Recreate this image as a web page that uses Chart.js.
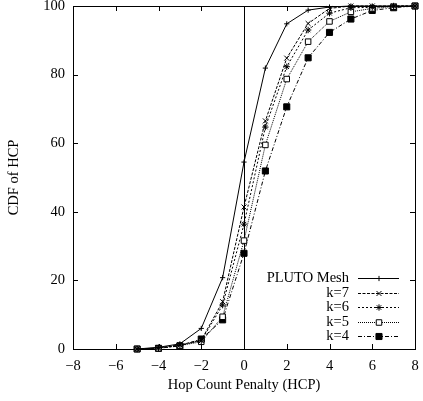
<!DOCTYPE html>
<html><head><meta charset="utf-8">
<script src="https://cdn.jsdelivr.net/npm/chart.js@4/dist/chart.umd.min.js"></script>
<style>html,body{margin:0;padding:0;background:#fff}#wrap{width:423px;height:401px}</style>
</head><body><div id="wrap"><canvas id="c" width="423" height="401"></canvas></div>
<script>
const hcp = [-5, -4, -3, -2, -1, 0, 1, 2, 3, 4, 5, 6, 7, 8];
const pluto = [0, 0.5, 1.5, 6.0, 20.8, 54.5, 81.9, 94.8, 98.8, 99.7, 100, 100, 100, 100];
const k7 = [0, 0.3, 1.2, 2.6, 13.8, 41.4, 66.5, 84.8, 94.9, 99.3, 100, 100, 100, 100];
const k6 = [0, 0.3, 1.1, 2.4, 12.8, 36.4, 64.7, 82.3, 93.0, 97.9, 99.5, 99.6, 100, 100];
const k5 = [0, 0.2, 1.0, 2.1, 9.4, 31.6, 59.5, 78.7, 89.6, 95.5, 98.3, 99.3, 99.8, 100];
const k4 = [0, 0.2, 0.9, 2.9, 8.5, 27.9, 51.9, 70.6, 84.9, 92.3, 96.2, 98.7, 99.5, 100];
const seriesNames = ['PLUTO Mesh', 'k=7', 'k=6', 'k=5', 'k=4'];
const xTicks = [-8, -6, -4, -2, 0, 2, 4, 6, 8];
const yTicks = [0, 20, 40, 60, 80, 100];

const FONT = '"Liberation Serif", "Times New Roman", serif';
const FS = 14.5;
const styles = [
  {dash: [], pointStyle: 'cross', radius: 2.6, bg: '#000'},
  {dash: [3, 1.5], pointStyle: 'crossRot', radius: 3.5, bg: '#000'},
  {dash: [2, 2], pointStyle: 'star', radius: 3.2, bg: '#000'},
  {dash: [1, 1], pointStyle: 'rect', radius: 3.9, bg: '#fff'},
  {dash: [4, 2, 1, 2], pointStyle: 'rect', radius: 4.3, bg: '#000'}
];
const allSeries = [pluto, k7, k6, k5, k4];

const datasets = allSeries.map((arr, i) => ({
  label: seriesNames[i],
  data: hcp.map((x, j) => ({x: x, y: arr[j]})),
  borderColor: '#000',
  borderWidth: 1,
  borderDash: styles[i].dash,
  pointStyle: styles[i].pointStyle,
  pointRadius: styles[i].radius,
  pointBorderWidth: 1,
  pointBorderColor: '#000',
  pointBackgroundColor: styles[i].bg,
  tension: 0,
  fill: false,
  clip: 8
}));

const framePlugin = {
  id: 'frame',
  beforeDatasetsDraw(chart) {
    const {ctx, chartArea: a, scales: {x, y}} = chart;
    ctx.save();
    ctx.strokeStyle = '#000';
    ctx.lineWidth = 1;
    ctx.setLineDash([]);
    ctx.strokeRect(Math.round(a.left) + 0.5, Math.round(a.top) + 0.5, Math.round(a.right - a.left), Math.round(a.bottom - a.top));
    const L = 5;
    ctx.beginPath();
    xTicks.forEach(v => {
      const px = Math.round(x.getPixelForValue(v)) + 0.5;
      ctx.moveTo(px, a.bottom); ctx.lineTo(px, a.bottom - L);
      ctx.moveTo(px, a.top); ctx.lineTo(px, a.top + L);
    });
    yTicks.forEach(v => {
      const py = Math.round(y.getPixelForValue(v)) + 0.5;
      ctx.moveTo(a.left, py); ctx.lineTo(a.left + L, py);
      ctx.moveTo(a.right, py); ctx.lineTo(a.right - L, py);
    });
    const zx = Math.round(x.getPixelForValue(0)) + 0.5;
    ctx.moveTo(zx, a.top); ctx.lineTo(zx, a.bottom);
    ctx.stroke();
    ctx.restore();
  },
  afterDraw(chart) {
    const {ctx} = chart;
    ctx.save();
    ctx.font = FS + 'px ' + FONT;
    ctx.textAlign = 'right';
    ctx.textBaseline = 'middle';
    ctx.fillStyle = '#000';
    const textRight = 349, x0 = 358, x1 = 399, rowY0 = 278, dy = 14.5;
    seriesNames.forEach((name, i) => {
      const yy = Math.round(rowY0 + i * dy);
      ctx.fillText(name, textRight, yy);
      ctx.beginPath();
      ctx.setLineDash(styles[i].dash);
      ctx.lineWidth = 1;
      ctx.strokeStyle = '#000';
      ctx.moveTo(x0, yy + 0.5); ctx.lineTo(x1, yy + 0.5);
      ctx.stroke();
      ctx.setLineDash([]);
      ctx.fillStyle = styles[i].bg;
      ctx.strokeStyle = '#000';
      ctx.lineWidth = 1;
      Chart.helpers.drawPoint(ctx, {pointStyle: styles[i].pointStyle, radius: styles[i].radius, rotation: 0, borderWidth: 1}, 379, yy + 0.5);
      ctx.fillStyle = '#000';
    });
    ctx.restore();
  }
};

new Chart(document.getElementById('c'), {
  type: 'line',
  data: {datasets},
  options: {
    responsive: false,
    animation: false,
    layout: {padding: {left: 0, right: 8, top: 6, bottom: 0}},
    plugins: {legend: {display: false}, tooltip: {enabled: false}},
    scales: {
      x: {
        type: 'linear', min: -8, max: 8,
        afterBuildTicks: s => { s.ticks = xTicks.map(v => ({value: v})); },
        ticks: {color: '#000', font: {family: FONT, size: FS}, padding: 8, maxRotation: 0,
          callback: v => (v < 0 ? '\u2212' + Math.abs(v) : String(v))},
        grid: {display: false, drawTicks: false}, border: {display: false},
        title: {display: true, text: 'Hop Count Penalty (HCP)', color: '#000', font: {family: FONT, size: FS}, padding: {top: 0, bottom: 7}},
        afterFit: s => { s.height = 52; s.paddingLeft = 0; s.paddingRight = 0; }
      },
      y: {
        type: 'linear', min: 0, max: 100,
        afterBuildTicks: s => { s.ticks = yTicks.map(v => ({value: v})); },
        ticks: {color: '#000', font: {family: FONT, size: FS}, padding: 8},
        grid: {display: false, drawTicks: false}, border: {display: false},
        title: {display: true, text: 'CDF of HCP', color: '#000', font: {family: FONT, size: FS}, padding: {top: 5, bottom: 0}},
        afterFit: s => { s.width = 73; s.paddingTop = 0; s.paddingBottom = 0; }
      }
    }
  },
  plugins: [framePlugin]
});
</script></body></html>
